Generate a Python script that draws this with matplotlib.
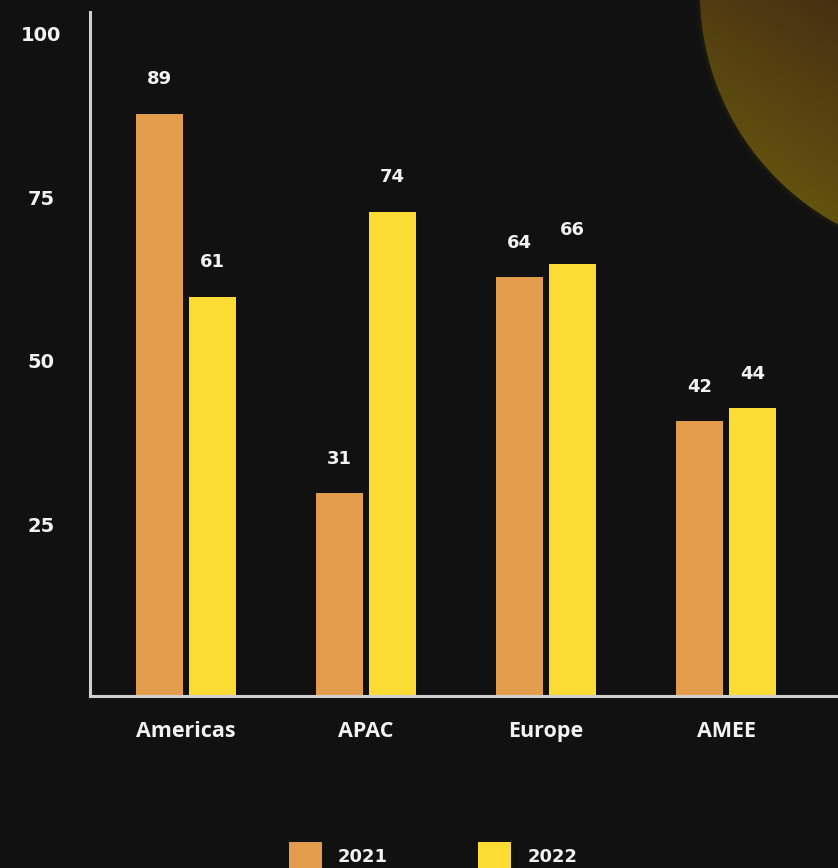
import numpy as np
import matplotlib.pyplot as plt
from matplotlib.patches import Circle
from matplotlib.transforms import ScaledTranslation

regions = ["Americas", "APAC", "Europe", "AMEE"]
years = ["2021", "2022"]
values_2021 = [89, 31, 64, 42]
values_2022 = [61, 74, 66, 44]
yticks = [25, 50, 75, 100]

BG = "#111111"
C2021 = "#E29C4B"
C2022 = "#FDDB35"
TXT = "#F2F2F2"
AXIS = "#CFCFCF"

fig = plt.figure(figsize=(8.38, 8.68), dpi=100, facecolor=BG)

# decorative golden disc in the upper right corner
bg = fig.add_axes([0, 0, 1, 1], zorder=-1)
bg.set_xlim(0, 838)
bg.set_ylim(868, 0)
bg.axis("off")
cx, cy, r = 963, -7, 263
xx, yy = np.meshgrid(np.linspace(cx - r, cx + r, 300), np.linspace(cy - r, cy + r, 300))
t = np.clip(0.8 * yy / 230 + 0.3 * (838 - xx) / 140, 0, 1)
top = np.array([0x45, 0x30, 0x12]) / 255
bot = np.array([0x6C, 0x5B, 0x0E]) / 255
img = top[None, None, :] * (1 - t[..., None]) + bot[None, None, :] * t[..., None]
im = bg.imshow(img, extent=[cx - r, cx + r, cy + r, cy - r], interpolation="bilinear")
disc = Circle((cx, cy), r, transform=bg.transData)
im.set_clip_path(disc)
# faint glow around the rim
for k in range(5):
    bg.add_patch(Circle((cx, cy), r + k, fill=False, lw=1.2,
                        ec=(0.42, 0.34, 0.06, 0.10 - k * 0.018)))

ax = fig.add_axes([90 / 838, 172 / 868, 748 / 838, 684 / 868])
ax.set_facecolor("none")

x = np.arange(len(regions))
w = 0.26
off = w / 2 + 0.0175
b1 = ax.bar(x - off, values_2021, w, color=C2021, label=years[0], zorder=2)
b2 = ax.bar(x + off, values_2022, w, color=C2022, label=years[1], zorder=2)

for bars, vals in ((b1, values_2021), (b2, values_2022)):
    for rect, v in zip(bars, vals):
        ax.annotate(str(v), (rect.get_x() + rect.get_width() / 2, v),
                    xytext=(0, 25), textcoords="offset points",
                    ha="center", va="center", color=TXT,
                    fontsize=13, fontweight="heavy", family="DejaVu Sans")

ax.set_xlim(-0.533, 3.622)
ax.set_ylim(0, 104.6)
ax.set_xticks(x)
ax.set_xticklabels(regions, fontsize=15.5, fontweight="bold", family="Open Sans", color=TXT)
ax.set_yticks(yticks)
ax.set_yticklabels([str(v) for v in yticks], fontsize=14, fontweight="heavy",
                   family="DejaVu Sans", color=TXT, ha="center")
ax.tick_params(axis="both", length=0)
ax.tick_params(axis="y", pad=35)
ax.tick_params(axis="x", pad=18)
shift = ScaledTranslation(0, 6 / 72, fig.dpi_scale_trans)
for lab in ax.get_yticklabels():
    lab.set_transform(lab.get_transform() + shift)

for s in ("top", "right"):
    ax.spines[s].set_visible(False)
for s in ("left", "bottom"):
    ax.spines[s].set_color(AXIS)
    ax.spines[s].set_linewidth(2.2)

leg = fig.legend(handles=[b1, b2], labels=years, loc="center", bbox_to_anchor=(0.517, 0.013),
                 ncol=2, frameon=False, handlelength=1.83, handleheight=2.2,
                 handletextpad=0.9, columnspacing=5.0,
                 prop={"weight": "heavy", "family": "DejaVu Sans", "size": 13})
for txt in leg.get_texts():
    txt.set_color(TXT)

fig.savefig("out.png", dpi=100, facecolor=BG)
